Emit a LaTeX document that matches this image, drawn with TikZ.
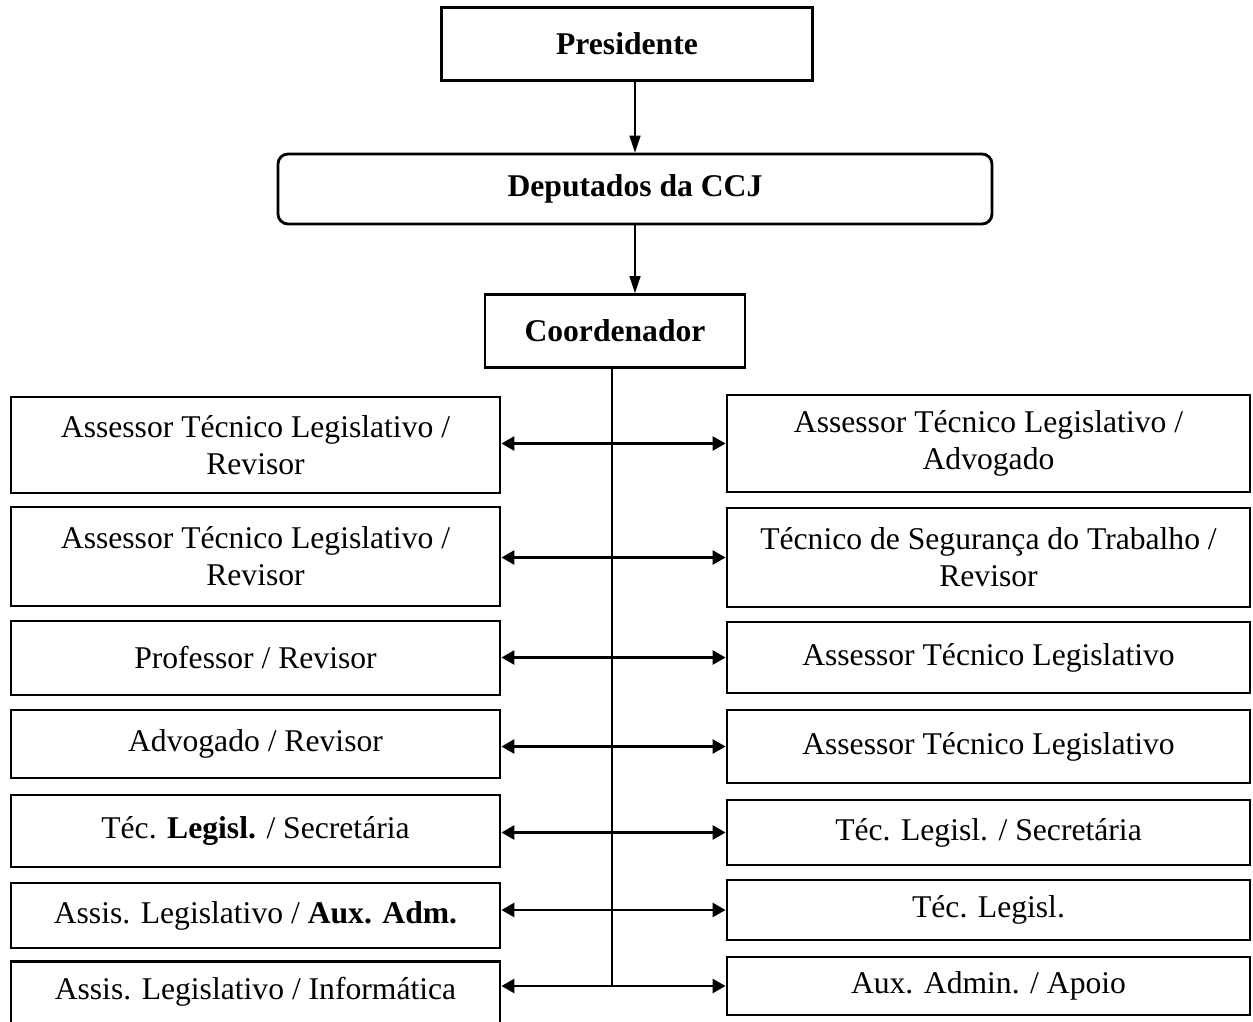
\documentclass[tikz,border=0pt]{standalone}
\usepackage{fontspec}
\setmainfont{Liberation Serif}
\usetikzlibrary{arrows.meta}

\begin{document}
\begin{tikzpicture}[x=0.2mm,y=-0.2mm,
  font=\fontsize{18}{21}\selectfont,
  box/.style={shape=rectangle,draw=black,line width=1.6pt,align=center,inner sep=0pt},
  lbox/.style={box,minimum width=97.8mm},
  rbox/.style={box,minimum width=104.6mm},
  link/.style={line width=1.5pt,{Triangle[length=2.6mm,width=2.8mm]}-{Triangle[length=2.6mm,width=2.8mm]}},
  down/.style={line width=0.9pt,-{Triangle[length=3.4mm,width=2.2mm]}}]
\useasboundingbox (0,0) rectangle (1253,1021);
\node[box,minimum width=74.2mm,minimum height=14.6mm] (P) at (627,44) {\textbf{Presidente}};
\node[box,rounded corners=2mm,minimum width=142.8mm,minimum height=14mm] (D) at (635,189) {\textbf{Deputados da CCJ}};
\node[box,minimum width=52mm,minimum height=14.6mm] (C) at (615,331) {\textbf{Coordenador}};
% lado esquerdo
\node[lbox,minimum height=19.2mm] (L1) at (255.5,445) {Assessor Técnico Legislativo /\\Revisor};
\node[lbox,minimum height=19.8mm] (L2) at (255.5,556.5) {Assessor Técnico Legislativo /\\Revisor};
\node[lbox,minimum height=14.8mm] (L3) at (255.5,658) {Professor / Revisor};
\node[lbox,minimum height=13.6mm] (L4) at (255.5,744) {Advogado / Revisor};
\node[lbox,minimum height=14.4mm] (L5) at (255.5,831) {Téc. \textbf{Legisl.} / Secretária};
\node[lbox,minimum height=13mm] (L6) at (255.5,915.5) {Assis. Legislativo / \textbf{Aux. Adm.}};
\node[lbox,minimum height=14.6mm,text depth=4mm] (L7) at (255.5,998) {Assis. Legislativo / Informática};
% lado direito
\node[rbox,minimum height=19.4mm] (R1) at (988.5,443.5) {Assessor Técnico Legislativo /\\Advogado};
\node[rbox,minimum height=19.8mm] (R2) at (988.5,557.5) {Técnico de Segurança do Trabalho /\\Revisor};
\node[rbox,minimum height=14.2mm] (R3) at (988.5,657.5) {Assessor Técnico Legislativo};
\node[rbox,minimum height=14.6mm] (R4) at (988.5,746.5) {Assessor Técnico Legislativo};
\node[rbox,minimum height=13mm] (R5) at (988.5,832.5) {Téc. Legisl. / Secretária};
\node[rbox,minimum height=12mm] (R6) at (988.5,910) {Téc. Legisl.};
\node[rbox,minimum height=11.6mm] (R7) at (988.5,986) {Aux. Admin. / Apoio};
% ligacoes
\coordinate (T) at ([xshift=-0.6mm]C.south);
\path [down] (D.north |- P.south) edge (D.north);
\path [down] (D.south) edge (D.south |- C.north);
\draw [line width=1.1pt] (T) -- (T |- R7.west);
\path [link] (R1.west -| L1.east) edge (R1.west);
\path [link] (R2.west -| L2.east) edge (R2.west);
\path [link] (R3.west -| L3.east) edge (R3.west);
\path [link] (R4.west -| L4.east) edge (R4.west);
\path [link] (R5.west -| L5.east) edge (R5.west);
\path [link] (R6.west -| L6.east) edge (R6.west);
\path [link] (R7.west -| L7.east) edge (R7.west);
\end{tikzpicture}
\end{document}
